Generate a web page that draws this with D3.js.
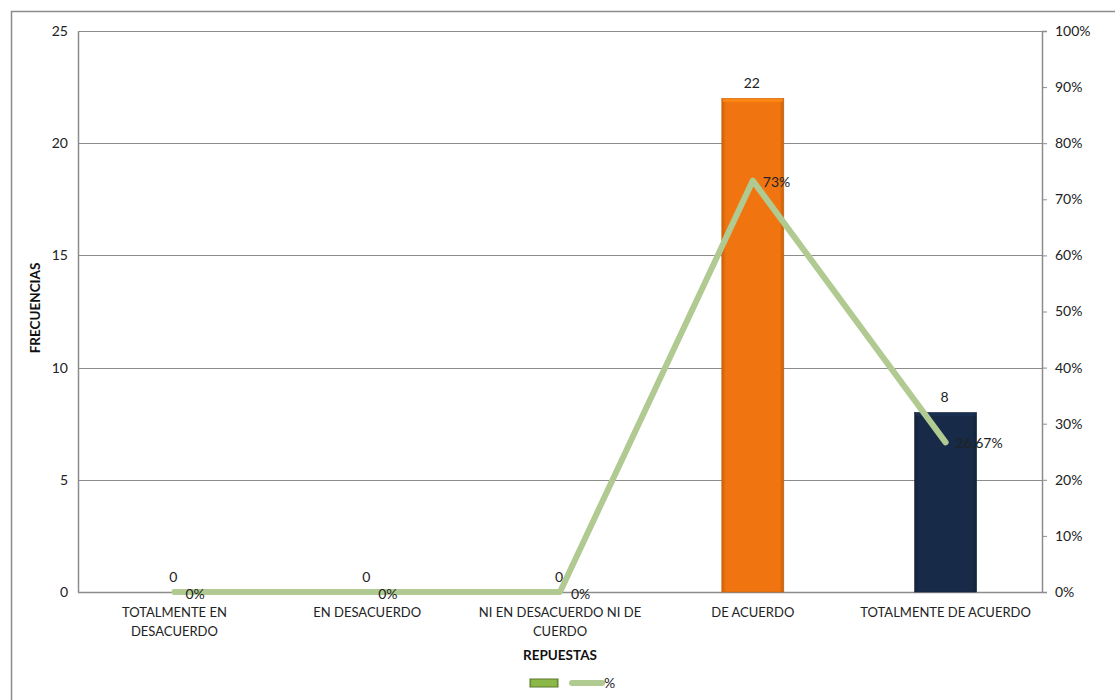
<!DOCTYPE html>
<html><head><meta charset="utf-8">
<script src="https://cdn.jsdelivr.net/npm/d3@7"></script>
<style>body{margin:0;background:#fff;font-family:Lato,"Open Sans",sans-serif;}</style>
</head><body><svg id="c" width="1115" height="700"></svg>
<script>
const categories = ["TOTALMENTE EN DESACUERDO","EN DESACUERDO","NI EN DESACUERDO NI DE CUERDO","DE ACUERDO","TOTALMENTE DE ACUERDO"];
const categoryLines = [["TOTALMENTE EN","DESACUERDO"],["EN DESACUERDO"],["NI EN DESACUERDO NI DE","CUERDO"],["DE ACUERDO"],["TOTALMENTE DE ACUERDO"]];
const frecuencias = [0,0,0,22,8];
const porcentajes = [0,0,0,0.7333,0.2667];
const pctLabels = ["0%","0%","0%","73%","26.67%"];
const leftTicks = [0,5,10,15,20,25];
const rightTicks = [0,0.1,0.2,0.3,0.4,0.5,0.6,0.7,0.8,0.9,1];
const barColors = ["#f07510","#f07510","#f07510","#f07510","#172a47"];

const svg = d3.select("#c");
const L=78, R=1042, T=31, B=592;
const x = d3.scaleBand().domain(categories).range([L,R]);
const y = d3.scaleLinear().domain([0,25]).range([B,T]);
const y2 = d3.scaleLinear().domain([0,1]).range([B,T]);
const FS = 14;

const defs = svg.append("defs");
function barGrad(id,c){
  const g = defs.append("linearGradient").attr("id",id).attr("x1",0).attr("x2",1).attr("y1",0).attr("y2",0);
  const base=d3.color(c);
  g.append("stop").attr("offset","0%").attr("stop-color",base.darker(0.5));
  g.append("stop").attr("offset","7%").attr("stop-color",base);
  g.append("stop").attr("offset","93%").attr("stop-color",base);
  g.append("stop").attr("offset","100%").attr("stop-color",base.darker(0.6));
}
barGrad("g0","#f07510"); barGrad("g1","#172a47"); barGrad("gl","#8cb84a");

// outer border
svg.append("rect").attr("x",11.5).attr("y",11.5).attr("width",1110).attr("height",700)
  .attr("fill","none").attr("stroke","#8c8c8c").attr("stroke-width",1.5);

// gridlines
svg.append("g").selectAll("line").data(leftTicks.slice(1)).join("line")
  .attr("x1",L).attr("x2",R).attr("y1",d=>Math.round(y(d))+0.5).attr("y2",d=>Math.round(y(d))+0.5)
  .attr("stroke","#8c8c8c").attr("stroke-width",1);

// left axis
const la = svg.append("g").attr("transform",`translate(${L},0)`)
  .call(d3.axisLeft(y).tickValues(leftTicks).tickSize(0).tickPadding(10));
la.select(".domain").attr("stroke","#8c8c8c").attr("stroke-width",1.5);
la.selectAll("text").attr("font-size",FS).attr("fill","#222").attr("font-family","Lato, sans-serif");

// right axis
const ra = svg.append("g").attr("transform",`translate(${R},0)`)
  .call(d3.axisRight(y2).tickValues(rightTicks).tickSize(5).tickPadding(8).tickFormat(d3.format(".0%")));
ra.select(".domain").attr("stroke","#8c8c8c").attr("stroke-width",1.5);
ra.selectAll(".tick line").attr("stroke","#8c8c8c");
ra.selectAll("text").attr("font-size",FS).attr("fill","#222").attr("font-family","Lato, sans-serif");

// x axis baseline
svg.append("line").attr("x1",L).attr("x2",R).attr("y1",B+0.5).attr("y2",B+0.5).attr("stroke","#8c8c8c").attr("stroke-width",1.5);

// bars
const bw = 62;
const cx = i=>x(categories[i])+x.bandwidth()/2;
const bg = svg.append("g");
frecuencias.forEach((d,i)=>{
  if(d<=0) return;
  bg.append("rect").attr("x",cx(i)-bw/2).attr("y",y(d)).attr("width",bw).attr("height",B-y(d))
    .attr("fill",i===4?"url(#g1)":"url(#g0)")
    .attr("stroke",d3.color(barColors[i]).darker(0.5)).attr("stroke-width",0.6);
  bg.append("rect").attr("x",cx(i)-bw/2+1).attr("y",y(d)+0.5).attr("width",bw-2).attr("height",3)
    .attr("fill",d3.color(barColors[i]).brighter(0.5)).attr("opacity",0.8);
});

// bar value labels
svg.append("g").selectAll("text").data(frecuencias).join("text")
  .attr("x",(d,i)=>cx(i)-1)
  .attr("y",d=>y(d)-10).attr("text-anchor","middle").attr("font-size",FS).attr("fill","#222")
  .text(d=>d);

// line
svg.append("path").datum(porcentajes)
  .attr("d",d3.line().x((d,i)=>cx(i)).y(d=>y2(d)))
  .attr("fill","none").attr("stroke","#b0ca92").attr("stroke-width",6).attr("stroke-linecap","round").attr("stroke-linejoin","round");

// pct labels
svg.append("g").selectAll("text").data(porcentajes).join("text")
  .attr("x",(d,i)=>cx(i)+(d>0?10:11)).attr("y",d=>y2(d)+(d>0?6:7))
  .attr("font-size",FS).attr("fill","#222")
  .text((d,i)=>pctLabels[i]);

// category labels
const cl = svg.append("g").selectAll("text").data(categoryLines).join("text")
  .attr("x",(d,i)=>cx(i)).attr("y",B+25).attr("text-anchor","middle").attr("font-size",13).attr("fill","#222");
cl.each(function(lines){
  const t=d3.select(this);
  lines.forEach((s,j)=>t.append("tspan").attr("x",t.attr("x")).attr("dy",j?19:0).text(s));
});

// axis titles
svg.append("text").attr("transform",`translate(40,308) rotate(-90)`).attr("text-anchor","middle")
  .attr("font-size",13.5).attr("font-weight","bold").attr("fill","#111").text("FRECUENCIAS");
svg.append("text").attr("x",560).attr("y",660).attr("text-anchor","middle")
  .attr("font-size",13.5).attr("font-weight","bold").attr("fill","#111").text("REPUESTAS");

// legend
svg.append("rect").attr("x",530).attr("y",679).attr("width",28).attr("height",8)
  .attr("fill","url(#gl)").attr("stroke","#5c7a2c").attr("stroke-width",1);
svg.append("line").attr("x1",572).attr("x2",602).attr("y1",683).attr("y2",683)
  .attr("stroke","#b0ca92").attr("stroke-width",6).attr("stroke-linecap","round");
svg.append("text").attr("x",604).attr("y",688).attr("font-size",FS).attr("fill","#222").text("%");
</script></body></html>
